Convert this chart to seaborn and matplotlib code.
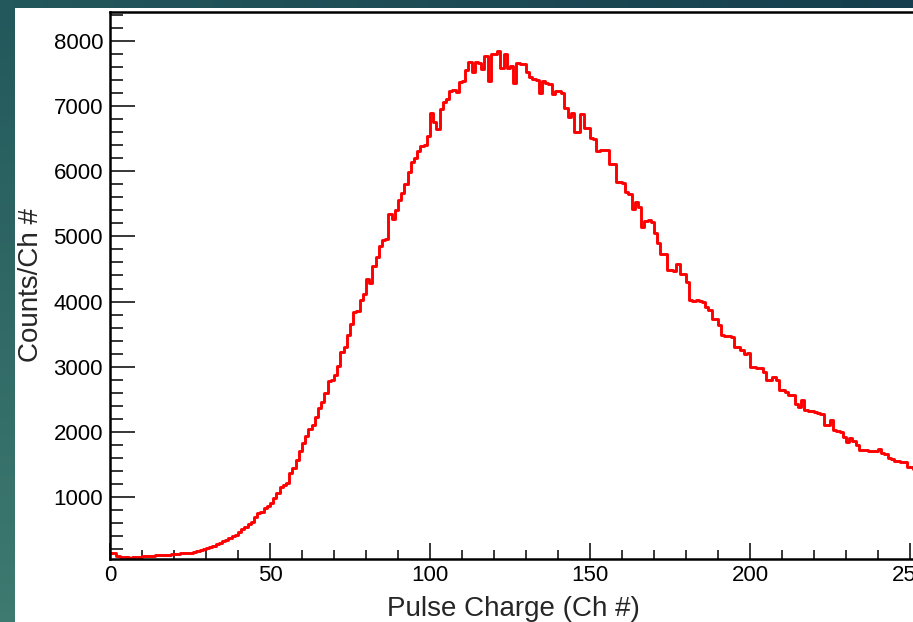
import numpy as np
import pandas as pd
import matplotlib
matplotlib.use("Agg")
import matplotlib.pyplot as plt
from matplotlib.patches import Rectangle
from matplotlib.ticker import MultipleLocator
import seaborn as sns

# ---- data: counts per channel (bin width 1, channels 0..255) ----
counts_0_59 = [150, 140, 95, 85, 80, 78, 72, 75, 80, 78,
               95, 100, 92, 96, 105, 110, 108, 115, 118, 120,
               128, 132, 135, 138, 142, 150, 158, 168, 185, 198,
               215, 238, 256, 275, 292, 320, 345, 378, 405, 425,
               470, 505, 548, 590, 625, 700, 750, 775, 830, 870,
               905, 985, 1060, 1160, 1180, 1215, 1365, 1445, 1570, 1700]
counts_60_119 = [1825, 1935, 2040, 2100, 2235, 2360, 2465, 2590, 2785, 2790,
                 2870, 3010, 3230, 3305, 3485, 3650, 3840, 3850, 4020, 4120,
                 4350, 4285, 4545, 4690, 4860, 4950, 4960, 5345, 5270, 5410,
                 5560, 5660, 5805, 5985, 6135, 6200, 6315, 6390, 6400, 6545,
                 6900, 6750, 6645, 6950, 7055, 7105, 7235, 7240, 7210, 7375,
                 7380, 7550, 7670, 7515, 7670, 7660, 7565, 7770, 7385, 7795]
counts_120_179 = [7800, 7850, 7590, 7795, 7590, 7615, 7360, 7655, 7650, 7640,
                  7515, 7440, 7420, 7395, 7205, 7385, 7360, 7335, 7180, 7230,
                  7235, 7205, 6975, 6835, 6900, 6595, 6600, 6885, 6670, 6660,
                  6515, 6490, 6315, 6320, 6325, 6320, 6110, 6105, 5830, 5830,
                  5825, 5675, 5650, 5420, 5520, 5445, 5140, 5240, 5245, 5215,
                  5050, 4895, 4730, 4735, 4490, 4485, 4475, 4570, 4425, 4430]
counts_180_255 = [4300, 4020, 4015, 4020, 4010, 3990, 3915, 3865, 3740, 3735,
                  3635, 3480, 3475, 3470, 3455, 3300, 3305, 3250, 3200, 3205,
                  2995, 2990, 2980, 2975, 2920, 2790, 2795, 2840, 2790, 2650,
                  2645, 2610, 2560, 2560, 2435, 2385, 2485, 2330, 2325, 2320,
                  2305, 2290, 2280, 2105, 2110, 2180, 2025, 2020, 2000, 1925,
                  1850, 1900, 1860, 1795, 1720, 1725, 1720, 1710, 1705, 1710,
                  1745, 1670, 1660, 1595, 1590, 1555, 1560, 1540, 1545, 1465,
                  1460, 1425, 1420, 1400, 1390, 1380]

counts = counts_0_59 + counts_60_119 + counts_120_179 + counts_180_255
channels = list(range(len(counts)))
x_major_ticks = [0, 50, 100, 150, 200, 250]
y_major_ticks = [1000, 2000, 3000, 4000, 5000, 6000, 7000, 8000]

df = pd.DataFrame({"channel": [c + 0.5 for c in channels], "counts": counts})

# ---- figure ----
W, H, DPI = 913, 622, 100
sns.set_style("ticks")
plt.rcParams["font.family"] = ["Liberation Sans", "DejaVu Sans"]
fig = plt.figure(figsize=(W / DPI, H / DPI), dpi=DPI, facecolor="white")

# slide background (teal gradient) with white panel
bg = fig.add_axes([0, 0, 1, 1], zorder=-10)
bg.set_axis_off()
yy, xx = np.mgrid[0:1:64j, 0:1:64j]
c00 = np.array([35, 88, 92]) / 255
c10 = np.array([22, 62, 78]) / 255
c01 = np.array([62, 122, 112]) / 255
c11 = np.array([40, 95, 98]) / 255
img = ((1 - xx)[..., None] * (1 - yy)[..., None] * c00 + xx[..., None] * (1 - yy)[..., None] * c10
       + (1 - xx)[..., None] * yy[..., None] * c01 + xx[..., None] * yy[..., None] * c11)
bg.imshow(img, extent=[0, W, H, 0], aspect="auto")
bg.add_patch(Rectangle((15, 8), W, H, facecolor="white", edgecolor="none"))
bg.set_xlim(0, W)
bg.set_ylim(H, 0)

# axes: left at 110px, bottom spine at 558.7px, top at 11.5px, 3.2 px per channel
left_px, bottom_px, top_px = 110, 622 - 558.7, 622 - 11.5
xmax = 256
width_px = xmax * 3.2
ax = fig.add_axes([left_px / W, bottom_px / H, width_px / W, (top_px - bottom_px) / H])
ax.set_facecolor("white")

sns.histplot(data=df, x="channel", weights="counts", binwidth=1, binrange=(0, xmax),
             element="step", fill=False, color="#ff0000", linewidth=2.1, ax=ax)

ax.set_xlim(0, xmax)
ax.set_ylim(55, 8450)
ax.set_xticks(x_major_ticks)
ax.set_yticks(y_major_ticks)
ax.xaxis.set_minor_locator(MultipleLocator(10))
ax.yaxis.set_minor_locator(MultipleLocator(200))

ax.tick_params(axis="both", which="both", direction="in", colors="black", width=1.1,
               labelsize=16, top=False, right=False)
ax.tick_params(axis="y", which="major", length=18, pad=5)
ax.tick_params(axis="y", which="minor", length=9.4)
ax.tick_params(axis="x", which="major", length=11.5, pad=4.5)
ax.tick_params(axis="x", which="minor", length=6.5)

for s in ["left", "bottom", "top"]:
    ax.spines[s].set_linewidth(1.8)
    ax.spines[s].set_color("black")
ax.spines["right"].set_visible(False)

ax.set_xlabel("Pulse Charge (Ch #)", fontsize=20)
ax.set_ylabel("Counts/Ch #", fontsize=20)
ax.xaxis.set_label_coords((513 - left_px) / width_px, -0.069)
ax.xaxis.label.set_va("top")
ax.yaxis.set_label_coords((31 - left_px) / width_px, 0.5)
ax.yaxis.label.set_va("center")

fig.savefig("out.png", dpi=DPI, facecolor=fig.get_facecolor())
